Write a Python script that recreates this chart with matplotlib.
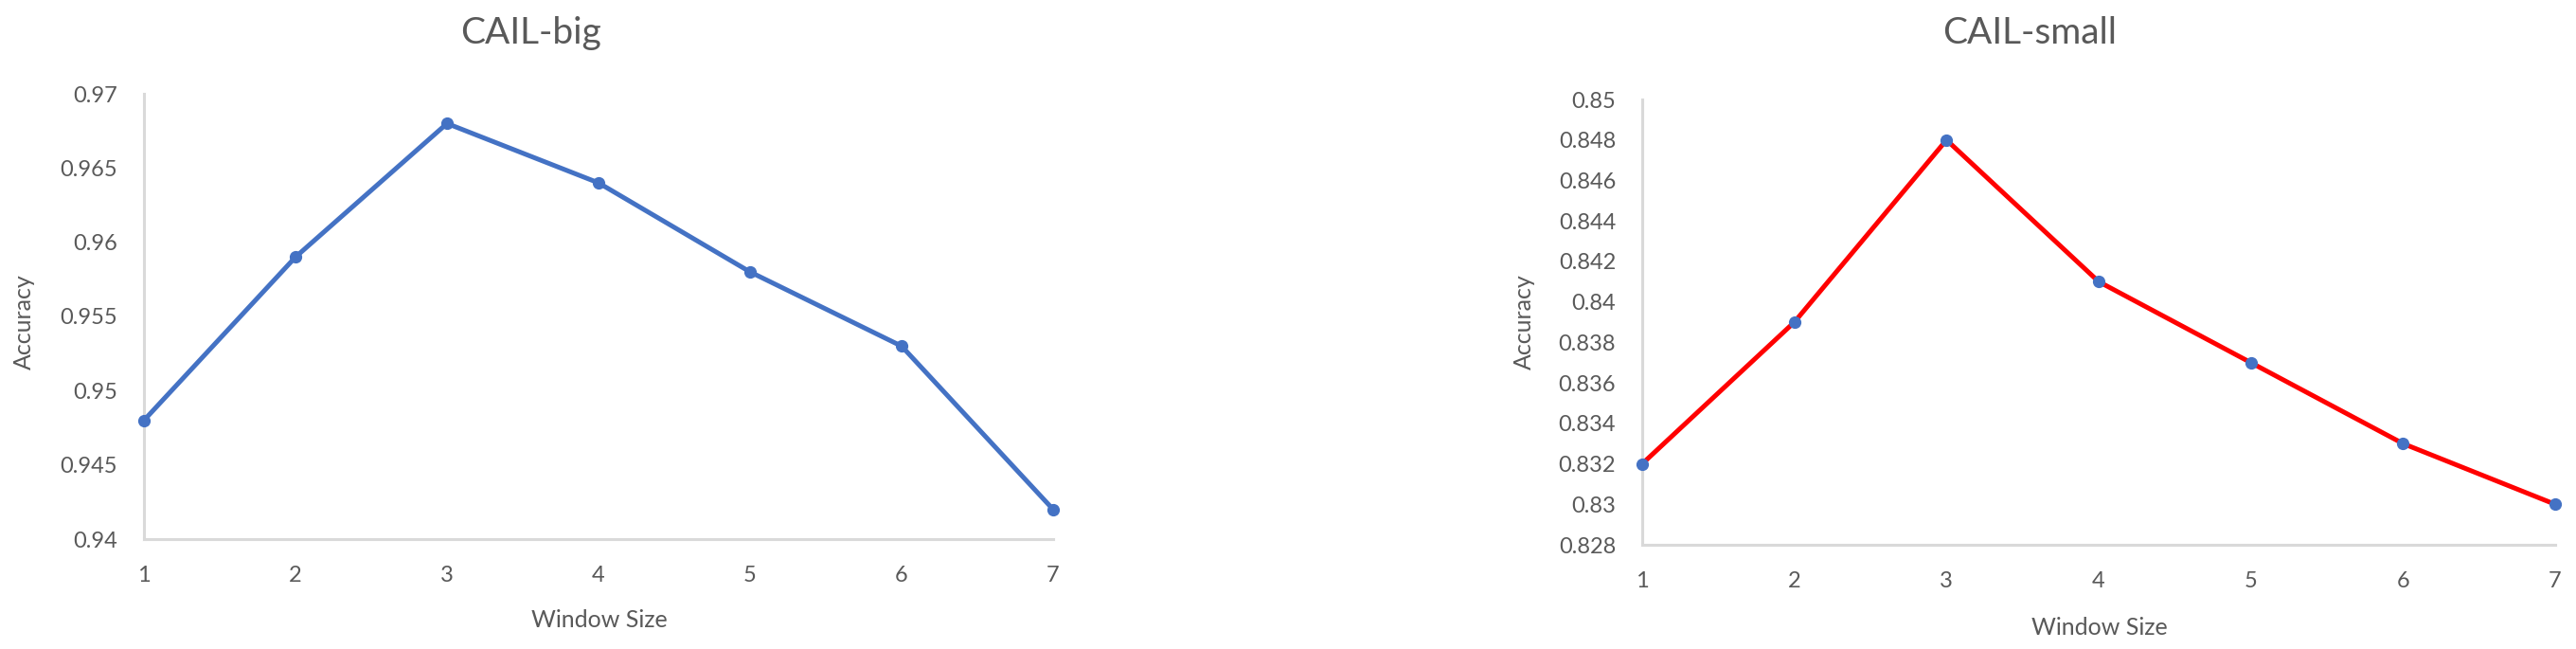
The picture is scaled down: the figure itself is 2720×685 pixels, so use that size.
import numpy as np
import matplotlib
matplotlib.use('Agg')
import matplotlib.pyplot as plt

plt.rcParams['font.family'] = ['Lato', 'DejaVu Sans']

window = [1, 2, 3, 4, 5, 6, 7]
acc_big = [0.948, 0.959, 0.968, 0.964, 0.958, 0.953, 0.942]
acc_small = [0.832, 0.839, 0.848, 0.841, 0.837, 0.833, 0.830]

big_yticks = np.arange(0.940, 0.9701, 0.005)
small_yticks = np.arange(0.828, 0.8501, 0.002)

text_col = '#595959'
spine_col = '#D9D9D9'
blue = '#4472C4'
red = '#FF0000'

W, H = 2720, 685
fig = plt.figure(figsize=(W / 100, H / 100), dpi=100)

def fmt(v):
    return f"{round(v, 3):g}"

def setup(ax, yticks, title, title_x, xlab_x, xlab_y, ylab_x):
    ax.set_xlim(1, 7)
    ax.set_ylim(yticks[0], yticks[-1])
    ax.set_xticks(window)
    ax.set_xticklabels([str(w) for w in window])
    ax.set_yticks(yticks)
    ax.set_yticklabels([fmt(v) for v in yticks])
    for s in ['top', 'right']:
        ax.spines[s].set_visible(False)
    for s in ['left', 'bottom']:
        ax.spines[s].set_color(spine_col)
        ax.spines[s].set_linewidth(2.2)
    ax.tick_params(axis='both', length=0, labelsize=17, labelcolor=text_col)
    ax.tick_params(axis='y', pad=20)
    ax.tick_params(axis='x', pad=20)
    fig.text(title_x / W, 1 - 35 / H, title, ha='center', va='center',
             fontsize=28, color=text_col)
    fig.text(xlab_x / W, 1 - xlab_y / H, 'Window Size', ha='center', va='center',
             fontsize=18, color=text_col)
    fig.text(ylab_x / W, 1 - 340 / H, 'Accuracy', ha='center', va='center',
             rotation=90, fontsize=18, color=text_col)

# CAIL-big
ax1 = fig.add_axes([152 / W, 1 - 569 / H, 960 / W, 470 / H])
ax1.plot(window, acc_big, color=blue, lw=3.6, marker='o', ms=8.5,
         mfc=blue, mec=blue, clip_on=False, zorder=3)
setup(ax1, big_yticks, 'CAIL-big', 560, 633, 654, 25)

# CAIL-small
ax2 = fig.add_axes([1734 / W, 1 - 575 / H, 964 / W, 470 / H])
ax2.plot(window, acc_small, color=red, lw=3.6, clip_on=False, zorder=3)
ax2.plot(window, acc_small, ls='none', marker='o', ms=8.5, color=blue,
         clip_on=False, zorder=4)
setup(ax2, small_yticks, 'CAIL-small', 2143, 2217, 662, 1609)

fig.savefig('out.png', dpi=100)
